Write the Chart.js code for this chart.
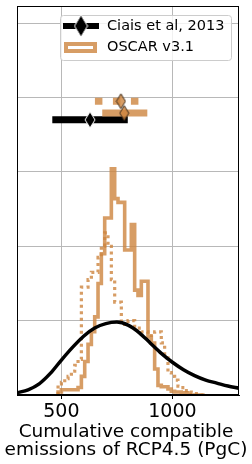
<!DOCTYPE html>
<html lang="en">
<head>
<meta charset="UTF-8">
<title>Cumulative compatible emissions of RCP4.5</title>
<script src="https://cdn.jsdelivr.net/npm/chart.js@4"></script>
<style>
  html, body { margin: 0; padding: 0; background: #fff; }
  #wrap { width: 252px; height: 464px; position: relative; }
</style>
</head>
<body>
<div id="wrap"><canvas id="chart"></canvas></div>
<script>
// ---------- data ----------

// Ciais et al, 2013: distribution curve, sampled every 50 PgC
const ciaisX = [300, 350, 400, 450, 500, 550, 600, 650, 700, 750, 800,
                850, 900, 950, 1000, 1050, 1100, 1150, 1200, 1250, 1300];
const ciaisY = [0.03, 0.07, 0.15, 0.29, 0.47, 0.64, 0.79, 0.90, 0.96, 0.98, 0.94,
                0.84, 0.70, 0.56, 0.44, 0.34, 0.26, 0.20, 0.16, 0.12, 0.09];

// Ciais et al, 2013: range bar and central value
const ciaisRange = [459, 799];
const ciaisMid = 629;
const ciaisLevel = 3.70;

// OSCAR v3.1 histograms: left edge of each 15 PgC bin, and the last right edge
const oscarBins = [485, 500, 515, 530, 545, 560, 575, 590, 605, 620, 635, 650, 665, 680, 695,
                   710, 725, 740, 755, 770, 785, 800, 815, 830, 845, 860, 875, 890, 905, 920,
                   935, 950, 965, 980, 995, 1010, 1025, 1040, 1055, 1070, 1085, 1100, 1115, 1130];
const oscarLastEdge = 1145;

// solid outline
const oscarSolid = [0.03, 0.04, 0.07, 0.07, 0.07, 0.07, 0.07, 0.10, 0.25, 0.45, 0.68, 0.85, 1.05, 1.50, 1.90,
                    2.38, 2.38, 3.04, 2.64, 2.59, 2.59, 1.95, 1.95, 2.29, 1.41, 1.34, 1.53, 1.53, 0.78, 0.70,
                    0.35, 0.13, 0.11, 0.11, 0.08, 0.05, 0.04, 0.04, 0.03, 0.03, 0, 0, 0, 0];
// dotted outline
const oscarDotted = [0, 0.15, 0.17, 0.22, 0.25, 0.32, 0.40, 0.48, 1.45, 1.45, 1.55, 1.65, 1.65, 1.85, 2.00,
                     2.18, 2.00, 1.55, 1.25, 1.25, 0.95, 0.95, 1.00, 1.00, 0.90, 0.90, 0.85, 0.85, 0.80, 0.80,
                     0.85, 0.85, 0.70, 0.50, 0.30, 0.25, 0.20, 0.12, 0.10, 0.06, 0.04, 0.03, 0.02, 0.02];

// OSCAR v3.1: range bars and central values
const oscarSolidRange = [684, 887];
const oscarSolidMid = 783;
const oscarSolidLevel = 3.79;
const oscarDottedRange = [651, 848];
const oscarDottedMid = 768;
const oscarDottedLevel = 3.95;

// axes
const xMin = 300, xMax = 1300;
const xTicks = [500, 1000];
const yMin = 0, yMax = 5.23;
const yTicks = [0, 1, 2, 3, 4, 5];
const xTitle = ['Cumulative compatible', 'emissions of RCP4.5 (PgC)'];

// ---------- helpers ----------

const TAN = 'rgba(205,133,63,0.8)';

function stepPoints(bins, heights, lastEdge) {
  const pts = [{ x: bins[0], y: 0 }];
  bins.forEach((b, i) => pts.push({ x: b, y: heights[i] }));
  pts.push({ x: lastEdge, y: 0 });
  return pts;
}

function diamond(w, h, fill, edge) {
  const c = document.createElement('canvas');
  c.width = w + 2; c.height = h + 2;
  const g = c.getContext('2d');
  g.beginPath();
  g.moveTo(c.width / 2, 1);
  g.lineTo(c.width - 1, c.height / 2);
  g.lineTo(c.width / 2, c.height - 1);
  g.lineTo(1, c.height / 2);
  g.closePath();
  g.fillStyle = fill; g.fill();
  g.lineWidth = 1; g.strokeStyle = edge; g.stroke();
  return c;
}

const blackDiamond = diamond(10, 16, '#000', '#fff');
const tanDiamond = diamond(9, 15, TAN, '#3b2a1a');
const legendDiamond = diamond(13, 22, '#000', '#fff');

function bar(range, level, color, order, dash) {
  return {
    type: 'line', order, data: [{ x: range[0], y: level }, { x: range[1], y: level }],
    borderColor: color, borderWidth: 7, borderDash: dash || [], borderCapStyle: 'butt',
    pointRadius: 0, clip: false,
  };
}

function marker(x, level, img, order) {
  return {
    type: 'scatter', order, data: [{ x, y: level }],
    pointStyle: img, pointRadius: 5, clip: false,
  };
}

// ---------- plugins ----------

const frame = {
  id: 'frame',
  afterDatasetsDraw(chart) {
    const { ctx, chartArea: a } = chart;
    ctx.save();
    ctx.strokeStyle = '#000';
    ctx.lineWidth = 1;
    ctx.strokeRect(a.left + 0.5, a.top + 0.5, a.right - a.left - 1, a.bottom - a.top - 1);
    ctx.restore();
  },
};

// x-axis title drawn by hand so the long second line is not squeezed
const axisTitle = {
  id: 'axisTitle',
  afterDraw(chart) {
    const { ctx, chartArea: a } = chart;
    ctx.save();
    ctx.fillStyle = '#000';
    ctx.font = '18.5px "DejaVu Sans"';
    ctx.textAlign = 'center';
    ctx.textBaseline = 'middle';
    const cx = (a.left + a.right) / 2 - 2;
    xTitle.forEach((t, i) => ctx.fillText(t, cx, a.bottom + 37 + i * 18.3));
    ctx.restore();
  },
};

const boxLegend = {
  id: 'boxLegend',
  afterDraw(chart) {
    const ctx = chart.ctx;
    ctx.save();
    ctx.beginPath();
    ctx.roundRect(60.5, 15.5, 171, 45, 3);
    ctx.fillStyle = 'rgba(255,255,255,0.8)';
    ctx.fill();
    ctx.strokeStyle = '#cccccc';
    ctx.lineWidth = 1;
    ctx.stroke();

    ctx.beginPath();
    ctx.moveTo(63, 26); ctx.lineTo(99, 26);
    ctx.strokeStyle = '#000'; ctx.lineWidth = 6; ctx.stroke();
    ctx.drawImage(legendDiamond, 81 - legendDiamond.width / 2, 26 - legendDiamond.height / 2);

    ctx.strokeStyle = TAN; ctx.lineWidth = 4;
    ctx.strokeRect(66, 44, 29, 7);

    ctx.fillStyle = '#000';
    ctx.font = '14.5px "DejaVu Sans"';
    ctx.textBaseline = 'middle';
    ctx.fillText('Ciais et al, 2013', 107, 26.5);
    ctx.fillText('OSCAR v3.1', 107, 47.5);
    ctx.restore();
  },
};

// ---------- chart ----------

Chart.defaults.font.family = '"DejaVu Sans", sans-serif';
Chart.defaults.color = '#000';

new Chart(document.getElementById('chart'), {
  type: 'line',
  data: {
    datasets: [
      { data: stepPoints(oscarBins, oscarDotted, oscarLastEdge), order: 9,
        borderColor: TAN, borderWidth: 3.2, borderDash: [3, 3.5], borderCapStyle: 'butt',
        stepped: 'after', pointRadius: 0, clip: 0 },
      { data: stepPoints(oscarBins, oscarSolid, oscarLastEdge), order: 8,
        borderColor: TAN, borderWidth: 3.6, borderJoinStyle: 'miter',
        stepped: 'after', pointRadius: 0, clip: 0 },
      { data: ciaisX.map((x, i) => ({ x, y: ciaisY[i] })), order: 7,
        borderColor: '#000', borderWidth: 3.5, cubicInterpolationMode: 'monotone',
        pointRadius: 0, clip: 0 },
      bar(ciaisRange, ciaisLevel, '#000', 6),
      marker(ciaisMid, ciaisLevel, blackDiamond, 5),
      bar(oscarDottedRange, oscarDottedLevel, TAN, 4, [7.5, 10.5]),
      bar(oscarSolidRange, oscarSolidLevel, TAN, 3),
      marker(oscarDottedMid, oscarDottedLevel, tanDiamond, 2),
      marker(oscarSolidMid, oscarSolidLevel, tanDiamond, 1),
    ],
  },
  options: {
    responsive: true,
    maintainAspectRatio: false,
    animation: false,
    events: [],
    layout: { padding: { left: 17, right: 13, top: 5, bottom: 0 } },
    plugins: { legend: { display: false }, tooltip: { enabled: false } },
    scales: {
      x: {
        type: 'linear', min: xMin, max: xMax,
        afterBuildTicks: s => { s.ticks = xTicks.map(v => ({ value: v })); },
        afterFit: s => { s.height = 69; },
        ticks: { padding: 2, font: { size: 19 }, callback: v => String(v) },
        grid: { color: '#b8b8b8', tickColor: '#000', tickLength: 4 },
        border: { color: '#000' },
      },
      y: {
        type: 'linear', min: yMin, max: yMax,
        afterBuildTicks: s => { s.ticks = yTicks.map(v => ({ value: v })); },
        afterFit: s => { s.width = 0; },
        ticks: { display: false },
        grid: { color: '#b8b8b8', drawTicks: false },
        border: { color: '#000' },
      },
    },
  },
  plugins: [frame, axisTitle, boxLegend],
});
</script>
</body>
</html>
